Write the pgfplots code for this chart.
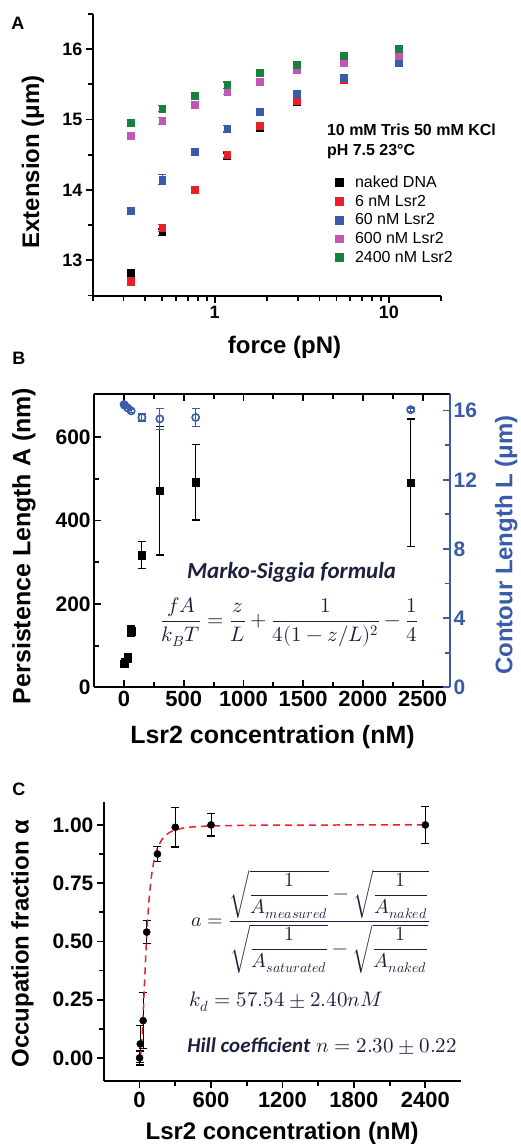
\documentclass[border=0pt]{standalone}
\usepackage{fontspec}
\usepackage{unicode-math}
\setmainfont{Liberation Sans}
\setmathfont{Latin Modern Math}
\newfontfamily\calibri{Carlito}
\usepackage{pgfplots}
\pgfplotsset{compat=1.18}

\definecolor{cRed}{RGB}{232,32,42}
\definecolor{cBlue}{RGB}{58,91,170}
\definecolor{cMag}{RGB}{192,87,181}
\definecolor{cGreen}{RGB}{26,128,64}
\definecolor{cInk}{RGB}{28,32,60}
\newcommand\fs[1]{\fontsize{#1}{#1}\selectfont}

\pgfplotsset{
  panel/.style={scale only axis, anchor=north west,
    axis line style={line width=2pt},
    tick style={draw=black, line width=1.8pt},
    major tick length=7pt, minor tick length=5pt,
    /pgf/number format/assume math mode=true,
    /pgf/number format/1000 sep={},
    tick label style={font=\bfseries\fs{20}},
    label style={font=\bfseries\fs{24}},
  },
  ebars/.style={
    /pgfplots/error bars/y dir=both,
    /pgfplots/error bars/y explicit,
    /pgfplots/error bars/error bar style={line width=1pt},
    /pgfplots/error bars/error mark options={rotate=90, mark size=4pt, line width=1.2pt}},
  sq/.style={only marks, mark=square*, mark size=3.4pt, ebars,
    /pgfplots/legend image code/.code={%
      \draw[##1, mark size=3.8pt] plot coordinates {(6pt,0pt)};
      \path[draw=none, fill=none] (0pt,0pt) -- (20pt,0pt);}},
}

\begin{document}
\begin{tikzpicture}

% ---------------- A
\begin{axis}[panel, at={(93pt,-14pt)}, width=349pt, height=282pt,
  xmode=log, xmin=0.2, xmax=20, ymin=12.5, ymax=16.5,
  axis x line*=bottom, axis y line*=left, tick align=outside,
  xtick={1,10}, xticklabels={1,10},
  minor xtick={0.2,0.3,0.4,0.5,0.6,0.7,0.8,0.9,2,3,4,5,6,7,8,9,20},
  ytick={13,14,15,16}, minor ytick={12.5,13.5,14.5,15.5,16.5},
  tick label style={font=\bfseries\fs{18}},
  xlabel={force (pN)}, ylabel={Extension (μm)},
  xlabel style={at={(axis description cs:0.55,-0.184)}, anchor=center},
  ylabel style={at={(axis description cs:-0.172,0.475)}, anchor=center},
  legend style={draw=none, fill=none, font=\fs{16},
    at={(axis description cs:0.68,0.44)}, anchor=north west,
    row sep=2pt},
  legend cell align=left,
]
\addplot+[sq, black, mark options={fill=black}] coordinates {
  (0.33,12.82) +- (0,0.045) (0.5,13.40) +- (0,0.045) (0.77,14.00) +- (0,0.045)
  (1.18,14.48) +- (0,0.045) (1.82,14.89) +- (0,0.045) (2.96,15.25) +- (0,0.045)
  (5.5,15.56) +- (0,0.045) (11.4,15.83) +- (0,0.045)};
\addlegendentry{naked DNA}
\addplot+[sq, cRed, mark options={fill=cRed}] coordinates {
  (0.33,12.72) +- (0,0.07) (0.5,13.46) +- (0,0.055) (0.77,14.00) +- (0,0.045)
  (1.18,14.50) +- (0,0.045) (1.82,14.91) +- (0,0.045) (2.96,15.27) +- (0,0.045)
  (5.5,15.57) +- (0,0.045) (11.4,15.84) +- (0,0.045)};
\addlegendentry{6 nM Lsr2}
\addplot+[sq, cBlue, mark options={fill=cBlue}] coordinates {
  (0.33,13.71) +- (0,0.045) (0.5,14.15) +- (0,0.07) (0.77,14.54) +- (0,0.045)
  (1.18,14.87) +- (0,0.045) (1.82,15.11) +- (0,0.045) (2.96,15.37) +- (0,0.045)
  (5.5,15.59) +- (0,0.045) (11.4,15.80) +- (0,0.045)};
\addlegendentry{60 nM Lsr2}
\addplot+[sq, cMag, mark options={fill=cMag}] coordinates {
  (0.33,14.77) +- (0,0.045) (0.5,14.98) +- (0,0.045) (0.77,15.21) +- (0,0.045)
  (1.18,15.40) +- (0,0.045) (1.82,15.54) +- (0,0.045) (2.96,15.70) +- (0,0.045)
  (5.5,15.81) +- (0,0.045) (11.4,15.90) +- (0,0.045)};
\addlegendentry{600 nM Lsr2}
\addplot+[sq, cGreen, mark options={fill=cGreen}] coordinates {
  (0.33,14.96) +- (0,0.045) (0.5,15.16) +- (0,0.045) (0.77,15.34) +- (0,0.045)
  (1.18,15.49) +- (0,0.045) (1.82,15.66) +- (0,0.045) (2.96,15.78) +- (0,0.045)
  (5.5,15.91) +- (0,0.045) (11.4,16.00) +- (0,0.045)};
\addlegendentry{2400 nM Lsr2}
\end{axis}
\node[anchor=west, font=\bfseries\fs{16}] at (324pt,-130pt) {10 mM Tris 50 mM KCl};
\node[anchor=west, font=\bfseries\fs{16}] at (324pt,-152pt) {pH 7.5 23°C};
\node[font=\bfseries\fs{18}] at (18pt,-23pt) {A};

% ---------------- B
\begin{axis}[panel, at={(94.3pt,-395pt)}, width=356.4pt, height=293.3pt,
  xmin=-250, xmax=2730, ymin=0, ymax=702,
  axis y line*=left, tick align=inside,
  xtick={0,500,...,2500}, minor x tick num=1,
  ytick={0,200,400,600}, minor y tick num=1,
  x tick label style={font=\bfseries\fs{22}},
  y tick label style={font=\bfseries\fs{21}},
  label style={font=\bfseries\fs{25}},
  xlabel={Lsr2 concentration (nM)}, ylabel={Persistence Length A (nm)},
  xlabel style={at={(axis description cs:0.501,-0.169)}, anchor=center},
  ylabel style={at={(axis description cs:-0.197,0.483)}, anchor=center},
]
\addplot+[only marks, black, mark=square*, mark size=3.7pt,
  mark options={fill=black}, ebars] coordinates {
  (0,57) +- (0,8) (6,62) +- (0,8) (30,70) +- (0,10) (60,135) +- (0,12)
  (150,317) +- (0,33) (300,471) +- (0,154) (600,492) +- (0,91)
  (2400,490) +- (0,153)};
\end{axis}
\begin{axis}[panel, at={(94.3pt,-395pt)}, width=356.4pt, height=293.3pt,
  xmin=-250, xmax=2730, ymin=0, ymax=16.93,
  axis y line*=right, axis x line=none, tick align=inside,
  axis line style={cBlue, line width=2pt},
  tick style={draw=cBlue},
  ytick={0,4,...,16}, minor y tick num=1,
  y tick label style={font=\bfseries\fs{21}, cBlue},
  label style={font=\bfseries\fs{24}},
  ylabel={Contour Length L (μm)},
  ylabel style={cBlue, at={(axis description cs:1.158,0.486)}, anchor=center},
]
\addplot+[only marks, cBlue, mark=o, mark size=3.6pt,
  mark options={line width=1.6pt}, ebars] coordinates {
  (0,16.35) +- (0,0.05) (6,16.3) +- (0,0.05) (30,16.15) +- (0,0.05)
  (60,15.98) +- (0,0.08) (150,15.6) +- (0,0.2) (300,15.52) +- (0,0.6)
  (600,15.6) +- (0,0.5) (2400,16.05) +- (0,0.1)};
\end{axis}
\node[font=\calibri\bfseries\itshape\fs{23}, text=cInk] at (292pt,-573pt) {Marko-Siggia formula};
\node[font=\fs{21}, text=cInk] at (290pt,-623pt)
  {$\displaystyle \frac{fA}{k_BT}=\frac{z}{L}+\frac{1}{4(1-z/L)^2}-\frac{1}{4}$};
\node[font=\bfseries\fs{18}] at (19pt,-359pt) {B};

% ---------------- C
\begin{axis}[panel, at={(104pt,-802.7pt)}, width=357.7pt, height=280pt,
  xmin=-300, xmax=2700, ymin=-0.1, ymax=1.1,
  axis x line*=bottom, axis y line*=left, tick align=outside,
  xtick={0,600,...,2400}, minor x tick num=1,
  ytick={0,0.25,0.5,0.75,1}, minor y tick num=1,
  x tick label style={font=\bfseries\fs{22}},
  y tick label style={font=\bfseries\fs{21},
    /pgf/number format/fixed, /pgf/number format/fixed zerofill,
    /pgf/number format/precision=2},
  xlabel={Lsr2 concentration (nM)}, ylabel={Occupation fraction α},
  xlabel style={at={(axis description cs:0.499,-0.187)}, anchor=center},
  ylabel style={at={(axis description cs:-0.228,0.492)}, anchor=center},
]
\addplot+[only marks, black, mark=*, mark size=3.6pt,
  mark options={fill=black}, ebars] coordinates {
  (0,0.0) +- (0,0.03) (6,0.06) +- (0,0.08) (30,0.16) +- (0,0.12)
  (60,0.54) +- (0,0.05) (150,0.875) +- (0,0.033) (300,0.99) +- (0,0.085)
  (600,1.0) +- (0,0.048) (2400,1.0) +- (0,0.08)};
\addplot[cRed, line width=1.5pt, dash pattern=on 7pt off 5pt, smooth] coordinates {
  (0,0) (10,0.018) (20,0.081) (30,0.183) (40,0.302) (50,0.420) (60,0.524)
  (70,0.611) (80,0.681) (100,0.781) (125,0.856) (150,0.901) (200,0.946)
  (250,0.967) (300,0.978) (400,0.989) (600,0.9955) (1000,0.9986)
  (1500,0.9995) (2400,1.0)};
\end{axis}
\node[font=\fs{20}, text=cInk] at (311pt,-923pt)
  {$a=\dfrac{\sqrt{\dfrac{1}{A_{measured}}}-\sqrt{\dfrac{1}{A_{naked}}}}
    {\sqrt{\dfrac{1}{A_{saturated}}}-\sqrt{\dfrac{1}{A_{naked}}}}$};
\node[anchor=west, font=\fs{21}, text=cInk] at (186pt,-1003pt) {$k_d=57.54\pm2.40nM$};
\node[anchor=west, font=\fs{21}, text=cInk] at (184pt,-1047pt)
  {{\calibri\bfseries\itshape Hill coefficient} $n=2.30\pm0.22$};
\node[font=\bfseries\fs{18}] at (19pt,-790pt) {C};
\path (0pt,0pt) rectangle (520pt,-1148pt);
\end{tikzpicture}
\end{document}
